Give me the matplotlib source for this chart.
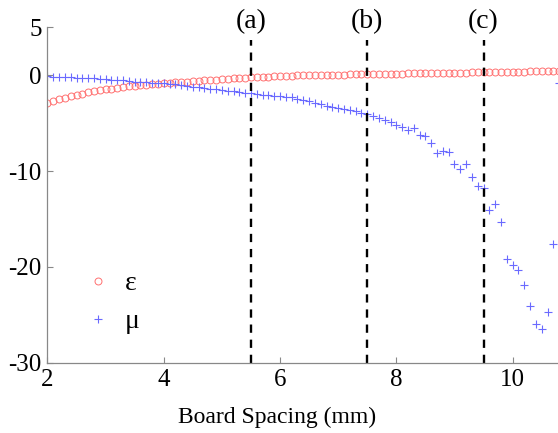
import numpy as np
import matplotlib
matplotlib.use("Agg")
import matplotlib.pyplot as plt

spacing = [round(2.0 + 0.1 * i, 1) for i in range(89)]

eps = [-2.90, -2.70, -2.52, -2.35, -2.20, -2.06, -1.93, -1.81, -1.70, -1.59,
       -1.50, -1.41, -1.33, -1.25, -1.18, -1.11, -1.05, -0.99, -0.94, -0.89,
       -0.85, -0.80, -0.76, -0.72, -0.68, -0.64, -0.60, -0.56, -0.52, -0.48,
       -0.44, -0.40, -0.36, -0.32, -0.28, -0.25, -0.22, -0.19, -0.16, -0.13,
       -0.11, -0.09, -0.07, -0.05, -0.03, -0.02, 0.00, 0.01, 0.02, 0.03,
       0.04, 0.05, 0.06, 0.07, 0.08, 0.09, 0.10, 0.11, 0.12, 0.13,
       0.14, 0.15, 0.16, 0.17, 0.18, 0.19, 0.20, 0.21, 0.22, 0.23,
       0.24, 0.25, 0.26, 0.27, 0.28, 0.29, 0.30, 0.31, 0.32, 0.33,
       0.34, 0.35, 0.36, 0.37, 0.38, 0.39, 0.40, 0.41, 0.42]

mu = [-0.15, -0.17, -0.20, -0.22, -0.25, -0.27, -0.30, -0.33, -0.36, -0.40,
      -0.44, -0.48, -0.52, -0.56, -0.62, -0.68, -0.73, -0.77, -0.80, -0.83,
      -0.86, -0.92, -0.98, -1.05, -1.12, -1.20, -1.27, -1.34, -1.42, -1.49,
      -1.56, -1.63, -1.70, -1.77, -1.84, -1.91, -1.97, -2.03, -2.09, -2.15,
      -2.22, -2.28, -2.34, -2.45, -2.58, -2.72, -2.88, -3.05, -3.20, -3.33,
      -3.45, -3.55, -3.65, -3.80, -3.95, -4.06, -4.25, -4.45, -4.65, -4.86,
      -5.20, -5.40, -5.70, -5.55, -6.25, -6.40, -7.05, -8.10, -7.90, -8.00,
      -9.30, -9.80, -9.30, -10.60, -11.60, -11.80, -14.10, -13.40, -15.30, -19.20,
      -19.80, -20.30, -21.90, -24.10, -25.90, -26.50, -24.70, -17.60, -0.80]

marker_x = [5.5, 7.5, 9.5]
marker_labels = ["(a)", "(b)", "(c)"]
xticks = [2, 4, 6, 8, 10]
yticks = [5, 0, -10, -20, -30]

plt.rcParams['font.family'] = ['Liberation Serif', 'DejaVu Serif']
plt.rcParams['axes.unicode_minus'] = False
fs = 17

fig = plt.figure(figsize=(5.58, 4.33), dpi=100)
ax = fig.add_axes([0.085, 0.1617, 0.915, 0.7759])

ax.plot(spacing, eps, linestyle='none', marker='o', markersize=5,
        markerfacecolor='none', markeredgecolor='#ff7070', markeredgewidth=0.7,
        label='ε')
ax.plot(spacing, mu, linestyle='none', marker='+', markersize=6,
        markeredgecolor='#6a6aff', markeredgewidth=0.8, label='μ')

for xv, lab in zip(marker_x, marker_labels):
    ax.plot([xv, xv], [-30, 3.6], color='black', linewidth=1.7,
            dashes=(3.5, 2.9), clip_on=False)
    ax.text(xv, 5.6, lab, ha='center', va='center', fontsize=20, clip_on=False)

ax.set_xlim(2, 10.78)
ax.set_ylim(-30, 5)
ax.set_xticks(xticks)
ax.set_yticks(yticks)
ax.tick_params(direction='in', length=4, color='#888888', labelsize=18, pad=4)
for s in ['top', 'right']:
    ax.spines[s].set_visible(False)
for s in ['left', 'bottom']:
    ax.spines[s].set_color('#888888')
    ax.spines[s].set_linewidth(0.9)

ax.set_xlabel('Board Spacing (mm)', fontsize=fs, labelpad=12, x=0.45)

leg = ax.legend(loc='upper left', bbox_to_anchor=(0.045, 0.315), frameon=False,
                fontsize=20, handlelength=1.0, handletextpad=0.45,
                labelspacing=0.45, borderpad=0.0)

fig.savefig('out.png', dpi=100)
